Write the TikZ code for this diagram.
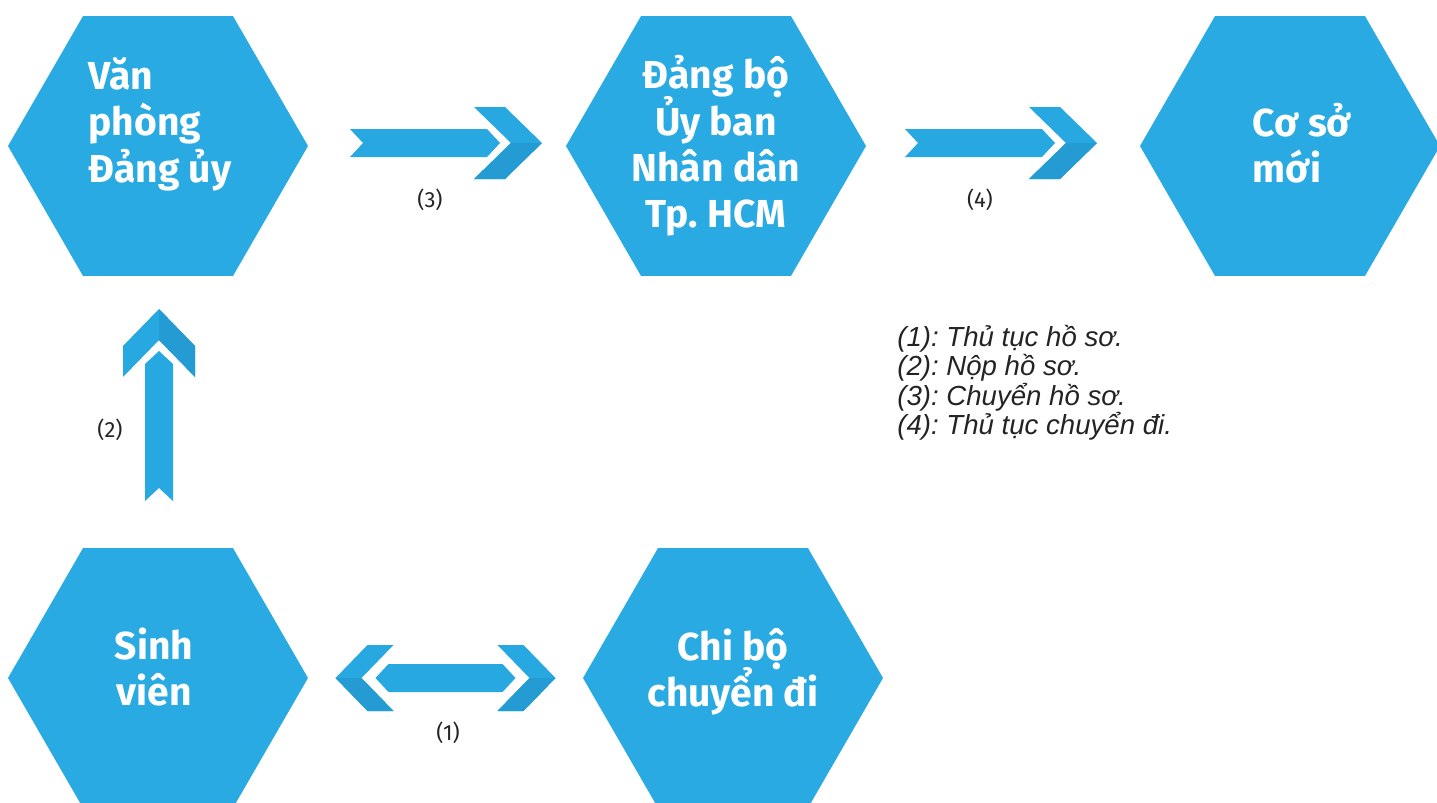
\documentclass[tikz,border=0pt]{standalone}
\usepackage{fontspec}
\usetikzlibrary{shapes.geometric,calc}
\newfontfamily\hexfont{Fira Sans}
\newfontfamily\legfont{Liberation Sans}
\definecolor{hexblue}{RGB}{41,170,226}
\definecolor{arrblue}{RGB}{40,168,225}
\definecolor{arrdark}{RGB}{37,155,212}
\definecolor{labgray}{RGB}{35,35,35}
\setlength{\lineskiplimit}{-20pt}
\frenchspacing
\tikzset{
  hexbox/.style={regular polygon,regular polygon sides=6,minimum size=150pt,
    inner sep=0pt,fill=hexblue},
  hextext/.style={text=white,inner sep=0pt,
    font=\hexfont\bfseries\fontsize{19.5}{23.2}\selectfont},
  numlabel/.style={text=labgray,inner sep=0pt,font=\hexfont\fontsize{11}{13}\selectfont},
  fwdarrow/.pic={
    \fill[arrblue] (-96,-14)--(41,-14)--(54,0)--(41,14)--(-96,14)--(-83,0)--cycle;
    \fill[arrblue] (28,-36)--(59,-36)--(96,0)--(59,36)--(28,36)--(65,0)--cycle;
    \fill[arrdark] (65,0)--(96,0)--(59,36)--(28,36)--cycle;
  },
  dblarrow/.pic={
    \fill[arrblue] (-110,0)--(-78,-33)--(-52,-33)--(-84,0)--(-52,33)--(-78,33)--cycle;
    \fill[arrdark] (-110,0)--(-84,0)--(-52,33)--(-78,33)--cycle;
    \fill[arrblue] (-70,0)--(-57,-14)--(57,-14)--(70,0)--(57,14)--(-57,14)--cycle;
    \fill[arrblue] (110,0)--(78,-33)--(52,-33)--(84,0)--(52,33)--(78,33)--cycle;
    \fill[arrdark] (110,0)--(84,0)--(52,33)--(78,33)--cycle;
  }
}

\begin{document}
\begin{tikzpicture}[x=0.5pt,y=-0.5pt]
\useasboundingbox (0,0) rectangle (1437,803);
\clip (0,0) rectangle (1437,803);

\node[hexbox] (vpdu) at (158,146) {};
\node[hexbox] (dbub) at (716,146) {};
\node[hexbox] (csm) at (1290,146) {};
\node[hexbox] (sv) at (158,678) {};
\node[hexbox] (cbcd) at (733,678) {};

\node[hextext,align=left] (vpdutxt) at ($(vpdu)+(2,-22)$) {Văn\\phòng\\Đảng ủy};
\node[hextext,align=center] (dbubtxt) at ($(dbub)+(0,0)$) {Đảng bộ\\Ủy ban\\Nhân dân\\Tp. HCM};
\node[hextext,align=left] (csmtxt) at ($(csm)+(12,-3)$) {Cơ sở\\mới};
\node[hextext,align=center] (svtxt) at ($(sv)+(-4,-11)$) {Sinh\\viên};
\node[hextext,align=center] (cbcdtxt) at ($(cbcd)+(0,-6)$) {Chi bộ\\chuyển đi};

\pic at ($(vpdu.east)!0.5!(dbub.west)+(9,-3)$) {fwdarrow};
\pic at ($(dbub.east)!0.5!(csm.west)+(-2,-3)$) {fwdarrow};
\pic[rotate=90] at ($(sv.north)!0.5!(vpdu.south)+(1,-7)$) {fwdarrow};
\pic at ($(sv.east)!0.5!(cbcd.west)$) {dblarrow};

\node[numlabel] (n3) at (430,200) {(3)};
\node[numlabel] (n4) at (980,200) {(4)};
\node[numlabel] (n2) at (110,430) {(2)};
\node[numlabel] (n1) at (448,733) {(1)};

\node[anchor=north west,align=left,inner sep=0pt,text=labgray,
  font=\legfont\itshape\fontsize{13.8}{14.6}\selectfont]
  (legend) at (897,325) {(1): Thủ tục hồ sơ.\\(2): Nộp hồ sơ.\\(3): Chuyển hồ sơ.\\(4): Thủ tục chuyển đi.};
\end{tikzpicture}
\end{document}
